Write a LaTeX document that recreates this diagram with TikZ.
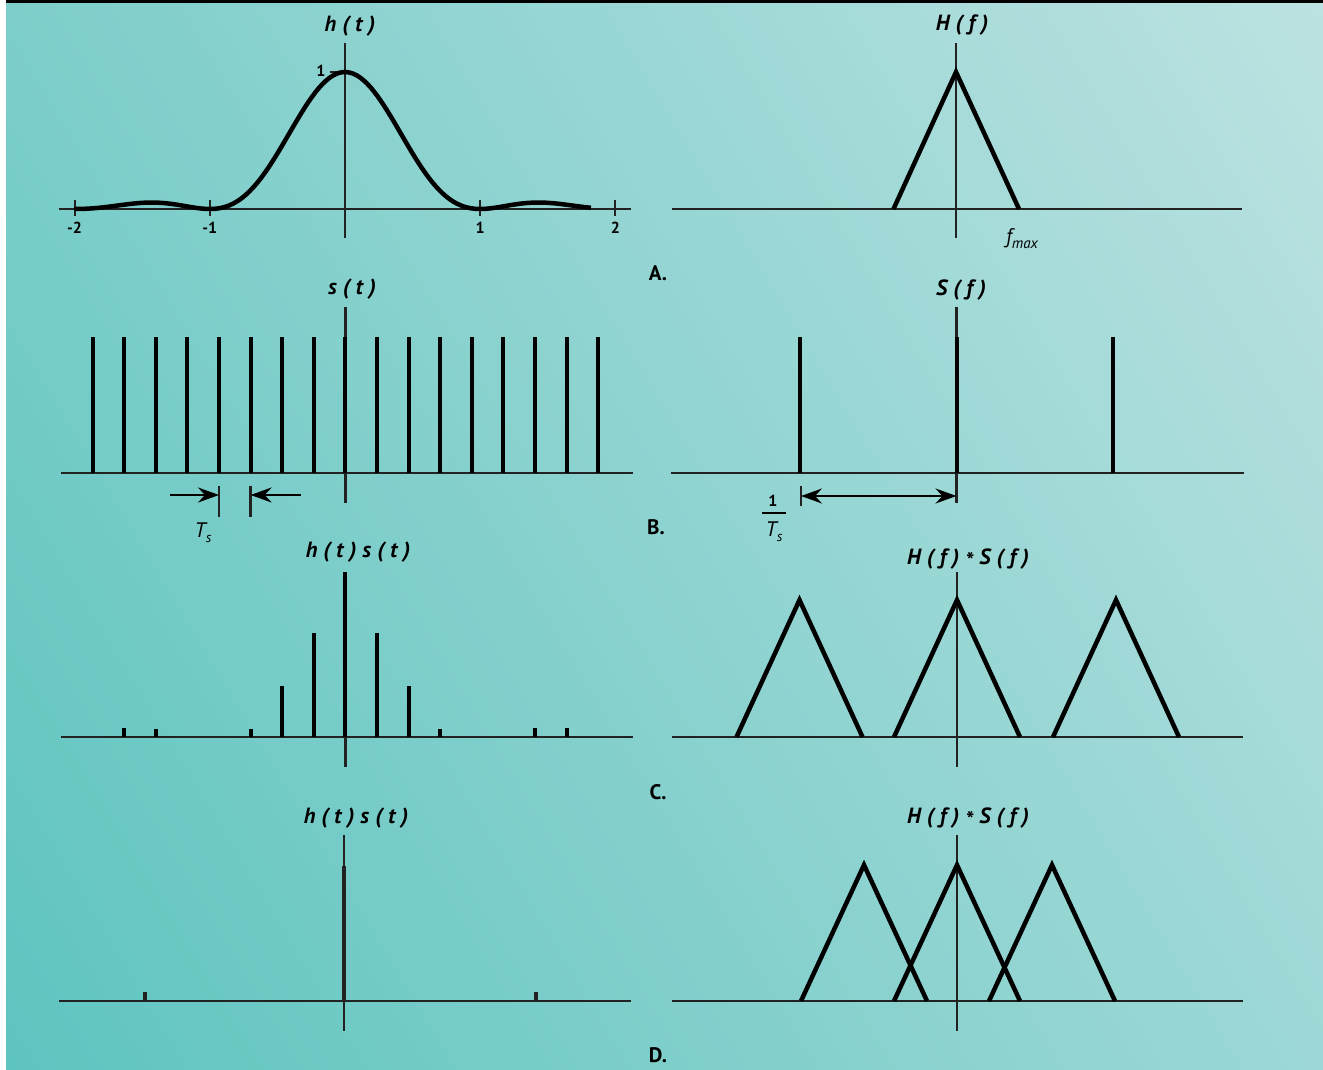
\documentclass[tikz,border=0pt]{standalone}
\usepackage{fontspec}
\setmainfont{PT Sans}
\usetikzlibrary{arrows.meta}
\definecolor{bgdark}{HTML}{5EC4BF}
\definecolor{bglight}{HTML}{BCE2E1}
\definecolor{axisgray}{HTML}{222222}
\tikzset{
  axisline/.style={line width=2.5pt,draw=axisgray},
  curve/.style={line width=4.5pt,line join=miter},
  spike/.style={line width=4pt},
  tickline/.style={line width=2pt,draw=axisgray},
  title/.style={font=\fontsize{22}{24}\selectfont\bfseries\itshape},
  ticklabel/.style={font=\fontsize{16}{18}\selectfont\bfseries},
  panel/.style={font=\fontsize{21}{24}\selectfont\bfseries},
  symb/.style={font=\fontsize{21}{22}\selectfont\itshape, inner sep=0pt},
  dimarrow/.style={line width=2.5pt,-{Stealth[length=21pt,width=15pt,inset=7pt]}},
  dimarrows/.style={line width=2.5pt,{Stealth[length=21pt,width=15pt,inset=7pt]}-{Stealth[length=21pt,width=15pt,inset=7pt]}},
}
\newcommand{\conv}{\;\raisebox{-4pt}{*}\;}
\begin{document}
\begin{tikzpicture}[x=1pt,y=-1pt]
\useasboundingbox (0,0) rectangle (1323,1070);
% background
\fill[white] (0,0) rectangle (1323,1070);
\begin{scope}
\clip (6,0) rectangle (1323,1070);
\shade[left color=bgdark,right color=bglight,transform canvas={rotate around={31:(664.5,535)}}]
  (-175.5,-265) rectangle (1504.5,1335);
\end{scope}
\fill[black] (6,0) rectangle (1323,3.5);

% A: h(t)
\coordinate (hL) at (59,209);
\coordinate (hR) at (631,209);
\coordinate (hT) at (345,43);
\coordinate (hB) at (345,238);
\draw[axisline] (hL)--(hR);
\draw[axisline] (hT)--(hB);
\foreach \t in {-2,-1,1,2}
{
    \draw[tickline] (345+135.2*\t,200)--(345+135.2*\t,216);
    \node[ticklabel] (tick\t) at (345+135.2*\t,228) {\t};
}
\draw[tickline] (330,72)--(345,72);
\node[ticklabel] (one) at (321,71) {1};
\draw[curve] plot[domain=-2.001:1.82,samples=151]
  ({345+135.2*\x},{209-137*(sin(180*\x)/(pi*\x))^2});
\node[title] (htitle) at (350,26) {h\;(\;t\;)};

% A: H(f)
\coordinate (HL) at (672,209);
\coordinate (HR) at (1242,209);
\coordinate (HT) at (956,43);
\coordinate (HB) at (956,238);
\draw[axisline] (HL)--(HR);
\draw[axisline] (HT)--(HB);
\draw[curve] (893.5,209)--(956,72)--(1019,209);
\node[title] (Htitle) at (962,25) {H\;(\;f\;)};
\node[symb] (fmax) at (1022,239) {f\raisebox{-5pt}{\fontsize{15}{16}\selectfont max}};
\node[panel] (labA) at (658,273) {A.};

% B: s(t)
\coordinate (sL) at (61,473);
\coordinate (sR) at (633,473);
\coordinate (sT) at (345.4,307);
\coordinate (sB) at (345.4,503);
\draw[axisline] (sL)--(sR);
\draw[axisline] (sT)--(sB);
\foreach \k in {0,...,16}
{
    \draw[spike] (92.6+31.6*\k,337)--(92.6+31.6*\k,473);
}
\coordinate (m1T) at (219,486);
\coordinate (m1B) at (219,517);
\coordinate (m2T) at (250.6,486);
\coordinate (m2B) at (250.6,517);
\coordinate (a1) at (170,495);
\coordinate (a1e) at (219,495);
\coordinate (a2) at (301,495);
\coordinate (a2e) at (250.6,495);
\draw[axisline] (m1T)--(m1B);
\draw[axisline] (m2T)--(m2B);
\draw[dimarrow] (a1)--(a1e);
\draw[dimarrow] (a2)--(a2e);
\node[symb] (Ts) at (203,533) {T\raisebox{-5pt}{\fontsize{14}{15}\selectfont s}};
\node[title] (stitle) at (352,289) {s\;(\;t\;)};

% B: S(f)
\coordinate (SL) at (671,473);
\coordinate (SR) at (1244,473);
\coordinate (ST) at (956.5,307);
\coordinate (SB) at (956.5,503);
\draw[axisline] (SL)--(SR);
\draw[axisline] (ST)--(SB);
\foreach \f in {800,956.5,1113}
{
    \draw[spike] (\f,337)--(\f,473);
}
\coordinate (m3T) at (801,486);
\coordinate (m3B) at (801,506);
\coordinate (a3) at (801,496);
\coordinate (a3e) at (956.5,496);
\draw[axisline] (m3T)--(m3B);
\draw[dimarrows] (a3)--(a3e);
\node[ticklabel] (fone) at (773,501) {1};
\coordinate (barL) at (762,513);
\coordinate (barR) at (786,513);
\draw[line width=2.6pt] (barL)--(barR);
\node[symb] (fTs) at (774,532) {T\raisebox{-5pt}{\fontsize{14}{15}\selectfont s}};
\node[title] (Stitle) at (961,290) {S\;(\;f\;)};
\node[panel] (labB) at (656,527) {B.};

% C: h(t)s(t)
\coordinate (cL) at (61,737);
\coordinate (cR) at (633,737);
\coordinate (cT) at (345.4,572);
\coordinate (cB) at (345.4,767);
\draw[axisline] (cL)--(cR);
\draw[axisline] (cT)--(cB);
\foreach \k/\top in {1/728,2/729,5/729,6/686,7/633,8/572,9/633,10/686,11/729,14/728,15/728}
{
    \draw[spike] (92.6+31.6*\k,\top)--(92.6+31.6*\k,737);
}
\node[title] (cstitle) at (358,552) {h\;(\;t\;)\;s\;(\;t\;)};

% C: H(f)*S(f)
\coordinate (CL) at (672,737);
\coordinate (CR) at (1243,737);
\coordinate (CT) at (957,572);
\coordinate (CB) at (957,767);
\draw[axisline] (CL)--(CR);
\draw[axisline] (CT)--(CB);
\foreach \c in {799.5,957,1116}
{
    \draw[curve] (\c-63,737)--(\c,600)--(\c+63,737);
}
\node[title] (CStitle) at (968,559) {H\;(\;f\;)\conv S\;(\;f\;)};
\node[panel] (labC) at (658,792) {C.};

% D: h(t)s(t)
\coordinate (dL) at (59,1001);
\coordinate (dR) at (631,1001);
\coordinate (dT) at (344,835);
\coordinate (dB) at (344,1031);
\draw[axisline] (dL)--(dR);
\draw[axisline] (dT)--(dB);
\draw[spike,axisgray] (344,866)--(344,1001);
\foreach \d in {145,536}
{
    \draw[spike,axisgray] (\d,992)--(\d,1001);
}
\node[title] (dstitle) at (356,818) {h\;(\;t\;)\;s\;(\;t\;)};

% D: H(f)*S(f)
\coordinate (DL) at (672,1001);
\coordinate (DR) at (1243,1001);
\coordinate (DT) at (957,835);
\coordinate (DB) at (957,1031);
\draw[axisline] (DL)--(DR);
\draw[axisline] (DT)--(DB);
\foreach \c in {864,957,1052}
{
    \draw[curve] (\c-63,1001)--(\c,865)--(\c+63,1001);
}
\node[title] (DStitle) at (968,818) {H\;(\;f\;)\conv S\;(\;f\;)};
\node[panel] (labD) at (658,1055) {D.};
\end{tikzpicture}
\end{document}
